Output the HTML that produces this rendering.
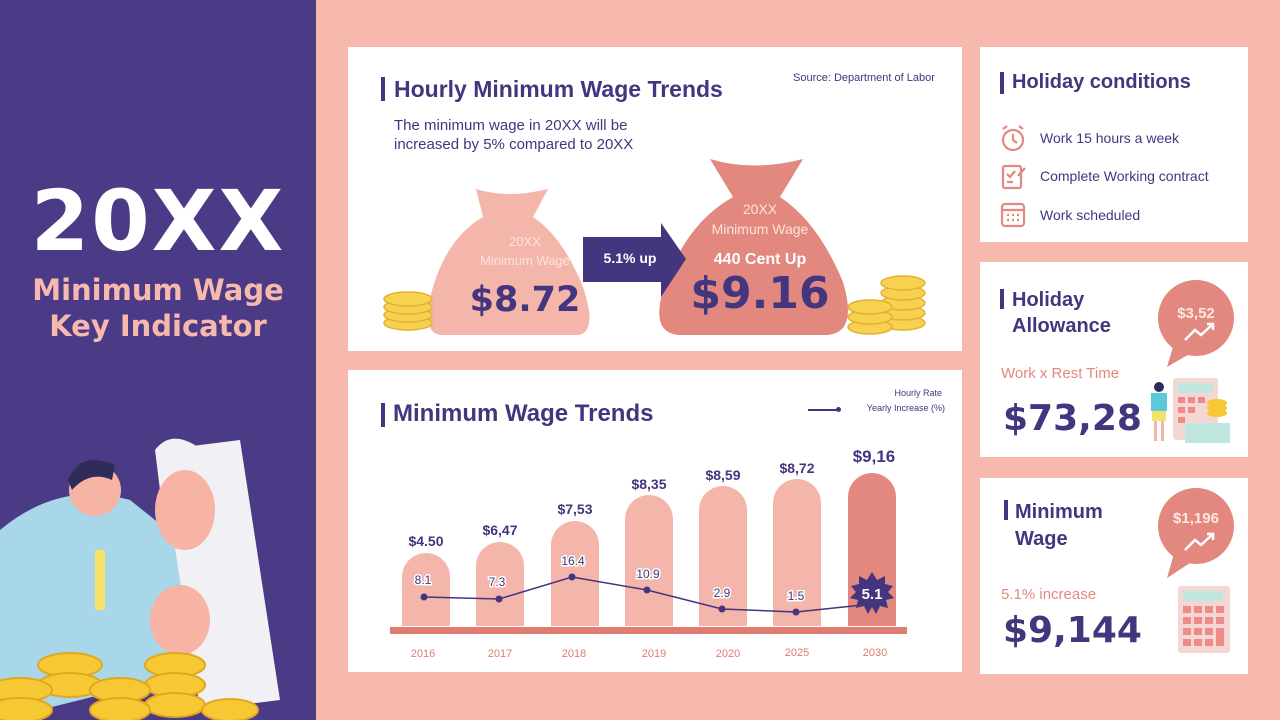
<!DOCTYPE html>
<html><head><meta charset="utf-8">
<style>
*{margin:0;padding:0;box-sizing:border-box}
body{width:1280px;height:720px;position:relative;overflow:hidden;background:#f7b8ad;font-family:"Liberation Sans",sans-serif;color:#43357e}
.abs{position:absolute}
.panel{position:absolute;background:#fff}
.h{font-weight:bold;color:#43357e}
.bar{position:absolute;border-left:4px solid #43357e}
</style></head><body>
<!-- left purple -->
<div class="abs" style="left:0;top:0;width:316px;height:720px;background:#4b3a86"></div>
<div class="abs" style="left:0;top:172px;width:316px;text-align:center;font-size:84px;font-weight:900;color:#fff;letter-spacing:2px;font-family:'DejaVu Sans',sans-serif">20XX</div>
<div class="abs" style="left:0;top:272px;width:316px;text-align:center;font-size:29px;font-weight:bold;color:#f7b8ad;line-height:36px;font-family:'DejaVu Sans',sans-serif">Minimum Wage<br>Key Indicator</div>
<svg class="abs" style="left:0;top:420px" width="316" height="300">
 <path d="M0 110 Q60 60 130 80 L180 120 L200 250 L0 300Z" fill="#a9d7ea"/>
 <rect x="95" y="130" width="10" height="60" fill="#f3e36a"/>
 <circle cx="95" cy="70" r="26" fill="#f7b3a3"/>
 <path d="M68 60 Q80 30 115 45 L112 60 Q90 50 72 70Z" fill="#2f2c5a"/>
 <path d="M160 30 L240 20 L280 280 L200 290Z" fill="#f1f1f5"/>
 <path d="M155 30 Q170 10 195 25 L200 80 Q170 95 160 70Z" fill="#f1f1f5"/>
 <ellipse cx="185" cy="90" rx="30" ry="40" fill="#f7b3a3"/>
 <ellipse cx="180" cy="200" rx="30" ry="35" fill="#f7b3a3"/>
 <g fill="#f6c934" stroke="#e0a820" stroke-width="2">
  <ellipse cx="70" cy="245" rx="32" ry="12"/><ellipse cx="70" cy="265" rx="32" ry="12"/>
  <ellipse cx="20" cy="270" rx="32" ry="12"/><ellipse cx="20" cy="290" rx="32" ry="12"/>
  <ellipse cx="175" cy="245" rx="30" ry="12"/><ellipse cx="175" cy="265" rx="30" ry="12"/><ellipse cx="175" cy="285" rx="30" ry="12"/>
  <ellipse cx="120" cy="270" rx="30" ry="12"/><ellipse cx="120" cy="290" rx="30" ry="12"/>
  <ellipse cx="230" cy="290" rx="28" ry="11"/>
 </g>
</svg>

<!-- top panel -->
<div class="panel" style="left:348px;top:47px;width:614px;height:304px"></div>
<div class="bar" style="left:381px;top:77px;height:24px"></div>
<div class="abs h" style="left:394px;top:76px;font-size:23px">Hourly Minimum Wage Trends</div>
<div class="abs" style="left:793px;top:72px;font-size:11px">Source: Department of Labor</div>
<div class="abs" style="left:394px;top:116px;font-size:15px;line-height:19px">The minimum wage in 20XX will be<br>increased by 5% compared to 20XX</div>
<svg class="abs" style="left:348px;top:47px" width="614" height="304">
 <path d="M128 142 Q160 152 200 142 L185 170 Q215 190 235 240 Q250 285 230 288 L92 288 Q72 285 85 240 Q100 190 135 170Z" fill="#f4b5ab"/>
 <path d="M362 112 Q405 125 455 112 L432 150 Q470 175 495 235 Q510 285 480 288 L330 288 Q300 285 318 235 Q340 175 385 150Z" fill="#e2887f"/>
 <rect x="235" y="190" width="78" height="45" fill="#43357e"/>
 <path d="M313 176 L338 212 L313 250Z" fill="#43357e"/>
 <g fill="#f7d250" stroke="#e3b030" stroke-width="1.5">
  <ellipse cx="60" cy="276" rx="24" ry="7"/><ellipse cx="60" cy="268" rx="24" ry="7"/><ellipse cx="60" cy="260" rx="24" ry="7"/><ellipse cx="60" cy="252" rx="24" ry="7"/>
  <ellipse cx="555" cy="276" rx="22" ry="7"/><ellipse cx="555" cy="266" rx="22" ry="7"/><ellipse cx="555" cy="256" rx="22" ry="7"/><ellipse cx="555" cy="246" rx="22" ry="7"/><ellipse cx="555" cy="236" rx="22" ry="7"/>
  <ellipse cx="522" cy="280" rx="22" ry="7"/><ellipse cx="522" cy="270" rx="22" ry="7"/><ellipse cx="522" cy="260" rx="22" ry="7"/>
 </g>
</svg>
<div class="abs" style="left:455px;top:232px;width:140px;text-align:center;color:#fde3dc;font-size:13px;line-height:19px">20XX<br>Minimum Wage</div>
<div class="abs" style="left:440px;top:280px;width:170px;text-align:center;font-size:35px;font-weight:900;font-family:'DejaVu Sans',sans-serif">$8.72</div>
<div class="abs" style="left:590px;top:250px;width:80px;text-align:center;color:#fff;font-size:14px;font-weight:bold">5.1% up</div>
<div class="abs" style="left:690px;top:199px;width:140px;text-align:center;color:#fde3dc;font-size:14px;line-height:20px">20XX<br>Minimum Wage</div>
<div class="abs" style="left:690px;top:251px;width:140px;text-align:center;color:#fff;font-size:16px;font-weight:bold">440 Cent Up</div>
<div class="abs" style="left:680px;top:268px;width:160px;text-align:center;font-size:44px;font-weight:900;font-family:'DejaVu Sans',sans-serif">$9.16</div>

<!-- chart panel -->
<div class="panel" style="left:348px;top:370px;width:614px;height:302px"></div>
<div class="bar" style="left:381px;top:403px;height:24px"></div>
<div class="abs h" style="left:393px;top:400px;font-size:24px">Minimum Wage Trends</div>
<div class="abs" style="left:850px;top:388px;width:92px;text-align:right;font-size:9px">Hourly Rate</div>
<div class="abs" style="left:808px;top:409px;width:30px;height:2px;background:#43357e"></div>
<div class="abs" style="left:836px;top:407px;width:5px;height:5px;border-radius:50%;background:#43357e"></div>
<div class="abs" style="left:850px;top:403px;width:95px;text-align:right;font-size:9px">Yearly Increase (%)</div>
<svg class="abs" style="left:348px;top:370px" width="614" height="302" font-family="Liberation Sans, sans-serif">
 <g fill="#f4b5ab">
  <path d="M54 256 V207 a24 24 0 0 1 48 0 V256Z"/>
  <path d="M128 256 V196 a24 24 0 0 1 48 0 V256Z"/>
  <path d="M203 256 V175 a24 24 0 0 1 48 0 V256Z"/>
  <path d="M277 256 V149 a24 24 0 0 1 48 0 V256Z"/>
  <path d="M351 256 V140 a24 24 0 0 1 48 0 V256Z"/>
  <path d="M425 256 V133 a24 24 0 0 1 48 0 V256Z"/>
 </g>
 <path d="M500 256 V127 a24 24 0 0 1 48 0 V256Z" fill="#e2887f"/>
 <rect x="42" y="257" width="517" height="7" fill="#e07c72"/>
 <g font-size="14" font-weight="bold" fill="#43357e" text-anchor="middle">
  <text x="78" y="176">$4.50</text><text x="152" y="165">$6,47</text><text x="227" y="144">$7,53</text>
  <text x="301" y="119">$8,35</text><text x="375" y="110">$8,59</text><text x="449" y="103">$8,72</text>
  <text x="526" y="92" font-size="17">$9,16</text>
 </g>
 <polyline points="76,227 151,229 224,207 299,220 374,239 448,242 524,234" fill="none" stroke="#43357e" stroke-width="1.5"/>
 <g fill="#43357e"><circle cx="76" cy="227" r="3.5"/><circle cx="151" cy="229" r="3.5"/><circle cx="224" cy="207" r="3.5"/><circle cx="299" cy="220" r="3.5"/><circle cx="374" cy="239" r="3.5"/><circle cx="448" cy="242" r="3.5"/></g>
 <g font-size="12" fill="#43357e" text-anchor="middle" stroke="#fff" stroke-width="3" paint-order="stroke">
  <text x="75" y="214">8.1</text><text x="149" y="216">7.3</text><text x="225" y="195">16.4</text>
  <text x="300" y="208">10.9</text><text x="374" y="227">2.9</text><text x="448" y="230">1.5</text>
 </g>
 <polygon fill="#43357e" points="524,202 529,210 537,206 537,214 545,216 540,222 546,228 538,230 540,238 532,236 528,244 524,237 520,244 516,236 508,238 510,230 502,228 508,222 503,216 511,214 511,206 519,210"/>
 <text x="524" y="229" font-size="15" font-weight="bold" fill="#fff" text-anchor="middle">5.1</text>
 <g font-size="11" fill="#e07c72" text-anchor="middle">
  <text x="75" y="287">2016</text><text x="152" y="287">2017</text><text x="226" y="287">2018</text>
  <text x="306" y="287">2019</text><text x="380" y="287">2020</text><text x="449" y="286">2025</text><text x="527" y="286">2030</text>
 </g>
</svg>

<!-- right panel 1 -->
<div class="panel" style="left:980px;top:47px;width:268px;height:195px"></div>
<div class="bar" style="left:1000px;top:72px;height:22px"></div>
<div class="abs h" style="left:1012px;top:71px;font-size:20px">Holiday conditions</div>
<svg class="abs" style="left:998px;top:124px" width="32" height="110" fill="none" stroke="#e2887f" stroke-width="2.2">
 <circle cx="15" cy="16" r="10"/><path d="M15 10 V16 L19 19 M5 5 L9 2 M25 5 L21 2"/>
 <rect x="5" y="42" width="18" height="22" rx="2"/><path d="M9 50 L12 53 L17 47 M9 58 H15 M20 52 L27 44"/>
 <rect x="4" y="80" width="22" height="22" rx="3"/><path d="M4 86 H26 M9 91 H11 M14 91 H16 M19 91 H21 M9 96 H11 M14 96 H16 M19 96 H21"/>
</svg>
<div class="abs" style="left:1040px;top:130px;font-size:14px">Work 15 hours a week</div>
<div class="abs" style="left:1040px;top:168px;font-size:14px">Complete Working contract</div>
<div class="abs" style="left:1040px;top:207px;font-size:14px">Work scheduled</div>

<!-- right panel 2 -->
<div class="panel" style="left:980px;top:262px;width:268px;height:195px"></div>
<div class="bar" style="left:1000px;top:289px;height:20px"></div>
<div class="abs h" style="left:1012px;top:287px;font-size:20px;line-height:26px">Holiday<br>Allowance</div>
<svg class="abs" style="left:1155px;top:280px" width="90" height="90">
 <circle cx="41" cy="38" r="38" fill="#e2887f"/><path d="M20 60 L12 87 L38 72Z" fill="#e2887f"/>
 <path d="M30 60 L40 50 L46 55 L58 44 M52 44 H58 V50" stroke="#fff" stroke-width="2.5" fill="none"/>
</svg>
<div class="abs" style="left:1163px;top:305px;width:66px;text-align:center;color:#fde8e3;font-size:15px;font-weight:bold">$3,52</div>
<div class="abs" style="left:1001px;top:365px;color:#e2887f;font-size:15px">Work x Rest Time</div>
<div class="abs" style="left:1003px;top:398px;font-size:36px;font-weight:900;font-family:'DejaVu Sans',sans-serif">$73,28</div>
<svg class="abs" style="left:1145px;top:375px" width="90" height="70">
 <rect x="28" y="3" width="45" height="62" rx="3" fill="#f4d6d3"/><rect x="33" y="8" width="35" height="10" fill="#bfe6df"/>
 <g fill="#f08a88"><rect x="33" y="22" width="7" height="6"/><rect x="43" y="22" width="7" height="6"/><rect x="53" y="22" width="7" height="6"/><rect x="33" y="32" width="7" height="6"/><rect x="43" y="32" width="7" height="6"/><rect x="33" y="42" width="7" height="6"/></g>
 <rect x="40" y="48" width="45" height="20" fill="#bfe6df"/>
 <g fill="#f6c934"><ellipse cx="72" cy="38" rx="10" ry="4"/><ellipse cx="72" cy="33" rx="10" ry="4"/><ellipse cx="72" cy="28" rx="10" ry="4"/></g>
 <circle cx="14" cy="12" r="5" fill="#2f2c5a"/><rect x="6" y="18" width="16" height="18" fill="#5ec7d9"/><rect x="7" y="36" width="14" height="10" fill="#f3e36a"/>
 <rect x="9" y="46" width="3" height="20" fill="#f7b3a3"/><rect x="16" y="46" width="3" height="20" fill="#f7b3a3"/>
</svg>

<!-- right panel 3 -->
<div class="panel" style="left:980px;top:478px;width:268px;height:196px"></div>
<div class="bar" style="left:1004px;top:500px;height:20px"></div>
<div class="abs h" style="left:1015px;top:499px;font-size:20px;line-height:27px">Minimum<br>Wage</div>
<svg class="abs" style="left:1155px;top:488px" width="90" height="95">
 <circle cx="41" cy="38" r="38" fill="#e2887f"/><path d="M20 62 L12 90 L38 73Z" fill="#e2887f"/>
 <path d="M30 62 L40 52 L46 57 L58 46 M52 46 H58 V52" stroke="#fff" stroke-width="2.5" fill="none"/>
</svg>
<div class="abs" style="left:1160px;top:510px;width:72px;text-align:center;color:#fde8e3;font-size:15px;font-weight:bold">$1,196</div>
<div class="abs" style="left:1001px;top:586px;color:#e2887f;font-size:15px">5.1% increase</div>
<div class="abs" style="left:1003px;top:610px;font-size:36px;font-weight:900;font-family:'DejaVu Sans',sans-serif">$9,144</div>
<svg class="abs" style="left:1177px;top:585px" width="55" height="70">
 <rect x="1" y="1" width="52" height="67" rx="3" fill="#f4d6d3"/><rect x="6" y="6" width="40" height="10" fill="#bfe6df"/>
 <g fill="#f08a88"><rect x="6" y="21" width="8" height="7"/><rect x="17" y="21" width="8" height="7"/><rect x="28" y="21" width="8" height="7"/><rect x="39" y="21" width="8" height="7"/>
 <rect x="6" y="32" width="8" height="7"/><rect x="17" y="32" width="8" height="7"/><rect x="28" y="32" width="8" height="7"/><rect x="39" y="32" width="8" height="7"/>
 <rect x="6" y="43" width="8" height="7"/><rect x="17" y="43" width="8" height="7"/><rect x="28" y="43" width="8" height="7"/><rect x="39" y="43" width="8" height="18"/>
 <rect x="6" y="54" width="8" height="7"/><rect x="17" y="54" width="8" height="7"/><rect x="28" y="54" width="8" height="7"/></g>
</svg>
</body></html>
